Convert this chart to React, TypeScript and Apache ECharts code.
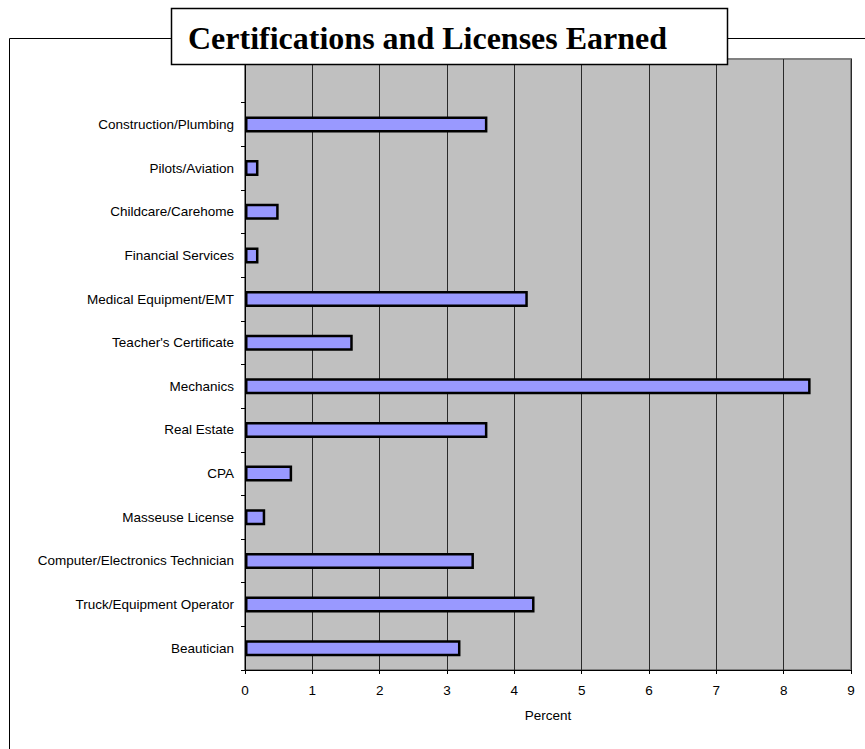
import React, { useEffect, useRef } from "react";
import * as echarts from "echarts";

const categories: string[] = [
  "Construction/Plumbing",
  "Pilots/Aviation",
  "Childcare/Carehome",
  "Financial Services",
  "Medical Equipment/EMT",
  "Teacher's Certificate",
  "Mechanics",
  "Real Estate",
  "CPA",
  "Masseuse License",
  "Computer/Electronics Technician",
  "Truck/Equipment Operator",
  "Beautician",
];

const percentValues: number[] = [3.6, 0.2, 0.5, 0.2, 4.2, 1.6, 8.4, 3.6, 0.7, 0.3, 3.4, 4.3, 3.2];

const xTicks = { min: 0, max: 9, interval: 1 };

const titleText = "Certifications and Licenses Earned";
const xAxisName = "Percent";

export default function App() {
  const ref = useRef<HTMLDivElement>(null);

  useEffect(() => {
    if (!ref.current) return;
    const chart = echarts.init(ref.current, undefined, { renderer: "svg" });
    const cats = ["", ...categories];
    const vals: (number | null)[] = [null, ...percentValues];
    const sans = "Liberation Sans, Arial, sans-serif";
    const fs = 13.5;

    chart.setOption({
      animation: false,
      backgroundColor: "#ffffff",
      graphic: [
        {
          type: "rect",
          z: 0,
          shape: { x: 9.5, y: 38.5, width: 900, height: 800 },
          style: { fill: "none", stroke: "#000", lineWidth: 1 },
        },
        {
          type: "rect",
          z: 100,
          shape: { x: 171.5, y: 8.5, width: 556, height: 56 },
          style: { fill: "#ffffff", stroke: "#000", lineWidth: 1.5 },
        },
        {
          type: "text",
          z: 101,
          x: 188,
          y: 38,
          style: {
            text: titleText,
            font: "bold 32px 'Liberation Serif', 'Times New Roman', serif",
            fill: "#000",
            textVerticalAlign: "middle",
            textAlign: "left",
          },
        },
      ],
      grid: {
        left: 245,
        top: 59,
        width: 606,
        height: 611,
        show: true,
        backgroundColor: "#c0c0c0",
        borderColor: "#808080",
        borderWidth: 2,
        containLabel: false,
      },
      xAxis: {
        type: "value",
        min: xTicks.min,
        max: xTicks.max,
        interval: xTicks.interval,
        name: xAxisName,
        nameLocation: "middle",
        nameGap: 38,
        nameTextStyle: { fontFamily: sans, fontSize: fs, color: "#000" },
        axisLine: { show: true, lineStyle: { color: "#000", width: 1 } },
        axisTick: { show: true, length: 4, lineStyle: { color: "#000" } },
        axisLabel: { fontFamily: sans, fontSize: fs, color: "#000", margin: 13 },
        splitLine: { show: true, lineStyle: { color: "#2a2a2a", width: 1 } },
      },
      yAxis: {
        type: "category",
        data: cats,
        inverse: true,
        axisLine: { show: true, lineStyle: { color: "#000", width: 1 } },
        axisTick: { show: true, length: 4, alignWithLabel: false, lineStyle: { color: "#000" } },
        axisLabel: { fontFamily: sans, fontSize: fs, color: "#000", margin: 11, interval: 0 },
        splitLine: { show: false },
      },
      series: [
        {
          type: "bar",
          data: vals,
          barWidth: 16,
          itemStyle: { color: "#9999ff", borderColor: "#000", borderWidth: 2.5 },
        },
      ],
    });

    return () => chart.dispose();
  }, []);

  return (
    <div
      ref={ref}
      style={{ position: "absolute", left: 0, top: 0, width: 865, height: 749, background: "#fff" }}
    />
  );
}
